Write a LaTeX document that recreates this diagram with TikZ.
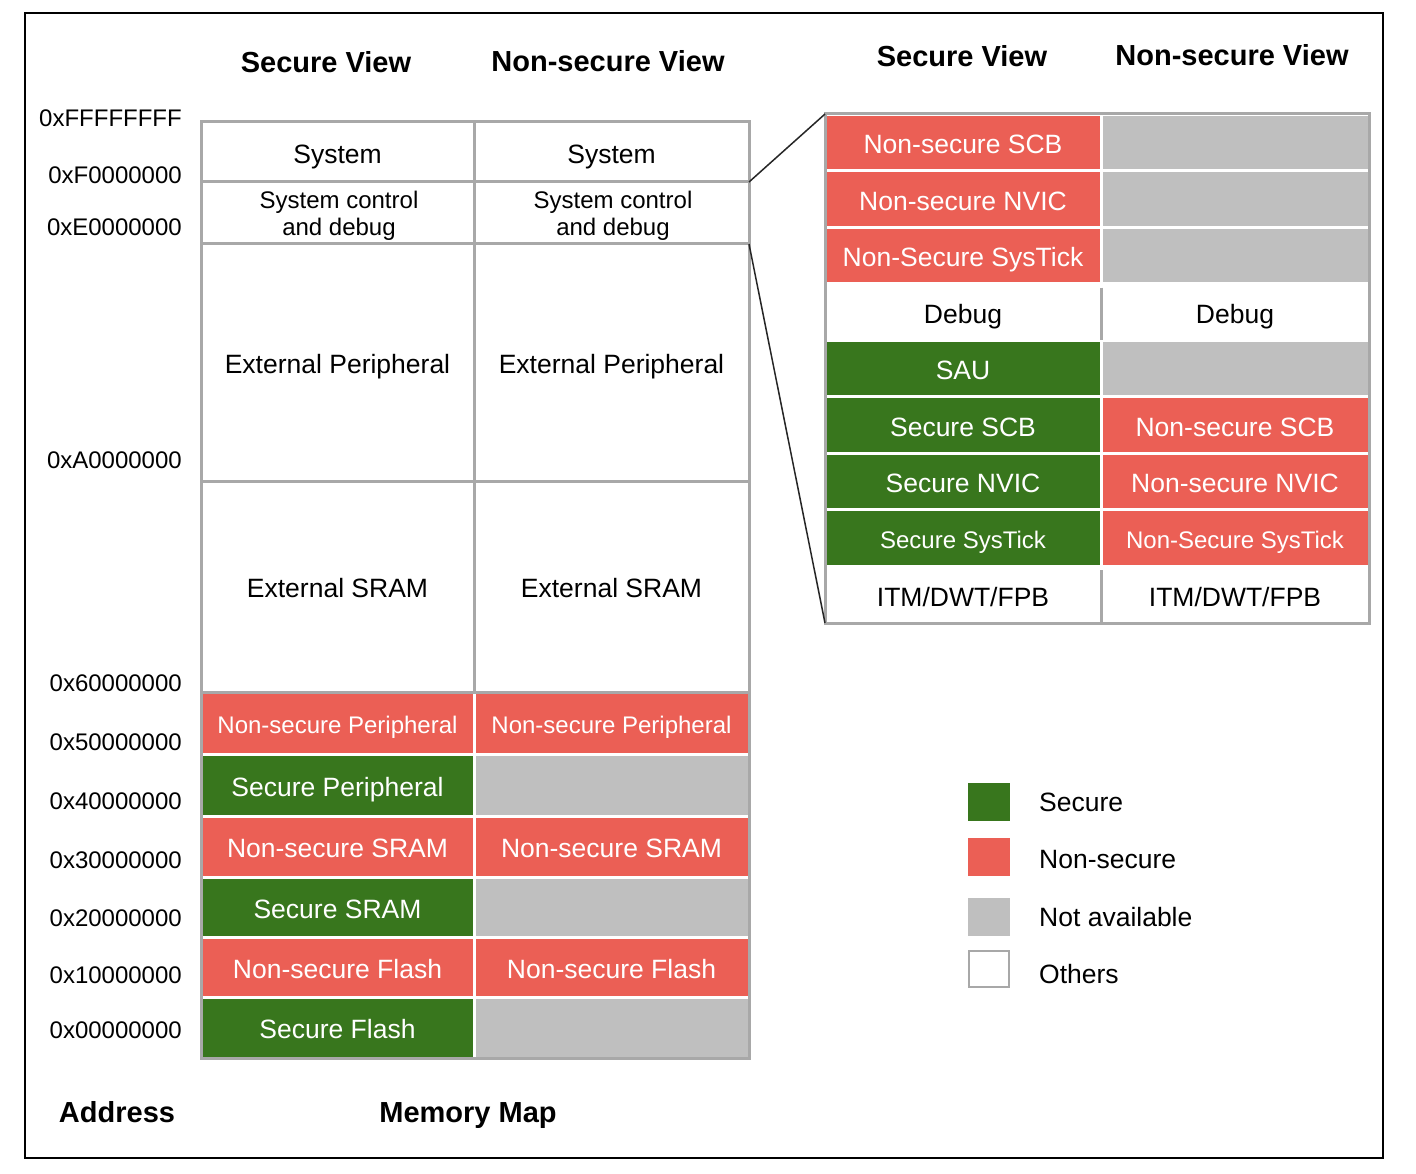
\documentclass[tikz,border=0pt]{standalone}
\usepackage{fontspec}
\setmainfont{Liberation Sans}
\definecolor{secgreen}{HTML}{38761D}
\definecolor{nsred}{HTML}{EB5F55}
\definecolor{nagray}{HTML}{BFBFBF}
\definecolor{rulegray}{HTML}{A8A8A8}

\tikzset{
  cellbase/.style={rectangle, inner sep=0pt, outer sep=0pt, line width=3pt},
  % the extra text height lowers the caption a little inside each cell
  cell/.style={cellbase, text height=22.6pt, text depth=0pt, font=\fontsize{26.5}{30}\selectfont},
  small/.style={text height=21.2pt, font=\fontsize{24}{27}\selectfont},
  sec/.style={cell, fill=secgreen, draw=white, text=white},
  nsec/.style={cell, fill=nsred, draw=white, text=white},
  na/.style={cell, fill=nagray, draw=white},
  oth/.style={cell, fill=white, draw=rulegray},
  othtwo/.style={cellbase, fill=white, draw=rulegray, align=center,
    font=\fontsize{24}{27}\selectfont},
  othplain/.style={cell, fill=white},
  colA/.style={minimum width=273pt},
  colB/.style={minimum width=275pt},
  colC/.style={minimum width=276pt},
  colD/.style={minimum width=268pt},
  rrow/.style={minimum height=56.56pt},
  head/.style={inner sep=0pt, text height=20.8pt, text depth=0pt,
    font=\fontsize{29}{33}\bfseries\selectfont},
  addr/.style={anchor=east, inner sep=0pt, text height=17.2pt, text depth=0pt,
    font=\fontsize{24}{27}\selectfont},
  legbox/.style={rectangle, inner sep=0pt, minimum width=42pt, minimum height=38pt},
  legtext/.style={anchor=west, inner sep=0pt, text height=18.6pt, text depth=0pt,
    font=\fontsize{26.5}{30}\selectfont},
  zoomline/.style={line width=1.5pt, black!85},
}

\begin{document}
\begin{tikzpicture}[x=1pt,y=-1pt]
\useasboundingbox[fill=white] (0,0) rectangle (1416,1174);

% outer frame
\draw[line width=2pt] (25,13) rectangle (1383,1158);

% column headings
\node[head] (hSecL)  at (326,62)  {Secure View};
\node[head] (hNsL)   at (608,61)  {Non-secure View};
\node[head] (hSecR)  at (962,56)  {Secure View};
\node[head] (hNsR)   at (1232,55) {Non-secure View};
\node[head] (hAddr)  at (117,1112) {Address};
\node[head] (hMap)   at (468,1112) {Memory Map};

% address labels
\node[addr] (a0) at (182,118)  {0xFFFFFFFF};
\node[addr] (a1) at (182,175)  {0xF0000000};
\node[addr] (a2) at (182,227)  {0xE0000000};
\node[addr] (a3) at (182,460)  {0xA0000000};
\node[addr] (a4) at (182,683)  {0x60000000};
\node[addr] (a5) at (182,742)  {0x50000000};
\node[addr] (a6) at (182,801)  {0x40000000};
\node[addr] (a7) at (182,860)  {0x30000000};
\node[addr] (a8) at (182,918)  {0x20000000};
\node[addr] (a9) at (182,975)  {0x10000000};
\node[addr] (a10) at (182,1030) {0x00000000};

% memory map: secure / non-secure regions
\node[nsec,small,colA,minimum height=62pt] (nspA) at (337.5,723)   {Non-secure Peripheral};
\node[nsec,small,colB,minimum height=62pt] (nspB) at (611.5,723)   {Non-secure Peripheral};
\node[sec,colA,minimum height=62pt]        (spA)  at (337.5,785)   {Secure Peripheral};
\node[na,colB,minimum height=62pt]         (spB)  at (611.5,785)   {};
\node[nsec,colA,minimum height=61pt]       (nssA) at (337.5,846.5) {Non-secure SRAM};
\node[nsec,colB,minimum height=61pt]       (nssB) at (611.5,846.5) {Non-secure SRAM};
\node[sec,colA,minimum height=60pt]        (ssA)  at (337.5,907)   {Secure SRAM};
\node[na,colB,minimum height=60pt]         (ssB)  at (611.5,907)   {};
\node[nsec,colA,minimum height=60pt]       (nsfA) at (337.5,967)   {Non-secure Flash};
\node[nsec,colB,minimum height=60pt]       (nsfB) at (611.5,967)   {Non-secure Flash};
\node[sec,colA,minimum height=61pt]        (sfA)  at (337.5,1027.5) {Secure Flash};
\node[na,colB,minimum height=61pt]         (sfB)  at (611.5,1027.5) {};

% memory map: other regions
\node[oth,colA,minimum height=60pt]  (sysA) at (337.5,152) {System};
\node[oth,colB,minimum height=60pt]  (sysB) at (611.5,152) {System};
\node[othtwo,colA,minimum height=62pt] (scdA) at (337.5,213) {};
\node[othtwo,colB,minimum height=62pt] (scdB) at (611.5,213) {};
\node[align=center, inner sep=0pt, font=\fontsize{24}{27}\selectfont] (scdAt) at (339,216) {System control\\ and debug};
\node[align=center, inner sep=0pt, font=\fontsize{24}{27}\selectfont] (scdBt) at (613,216) {System control\\ and debug};
\node[oth,colA,minimum height=237pt] (epA) at (337.5,362.5) {External Peripheral};
\node[oth,colB,minimum height=237pt] (epB) at (611.5,362.5) {External Peripheral};
\node[oth,colA,minimum height=211pt] (esA) at (337.5,586.5) {External SRAM};
\node[oth,colB,minimum height=211pt] (esB) at (611.5,586.5) {External SRAM};

\draw[rulegray, line width=3pt] (201,122) rectangle (749,1058);

% system control space detail
\node[nsec,colC,rrow] (r1C) at (963,142.3)  {Non-secure SCB};
\node[na,colD,rrow]   (r1D) at (1235,142.3) {};
\node[nsec,colC,rrow] (r2C) at (963,198.8)  {Non-secure NVIC};
\node[na,colD,rrow]   (r2D) at (1235,198.8) {};
\node[nsec,colC,rrow] (r3C) at (963,255.4)  {Non-Secure SysTick};
\node[na,colD,rrow]   (r3D) at (1235,255.4) {};
\node[othplain,colC,rrow] (r4C) at (963,312)  {Debug};
\node[othplain,colD,rrow] (r4D) at (1235,312) {Debug};
\node[sec,colC,rrow]  (r5C) at (963,368.5)  {SAU};
\node[na,colD,rrow]   (r5D) at (1235,368.5) {};
\node[sec,colC,rrow]  (r6C) at (963,425.1)  {Secure SCB};
\node[nsec,colD,rrow] (r6D) at (1235,425.1) {Non-secure SCB};
\node[sec,colC,rrow]  (r7C) at (963,481.6)  {Secure NVIC};
\node[nsec,colD,rrow] (r7D) at (1235,481.6) {Non-secure NVIC};
\node[sec,small,colC,rrow]  (r8C) at (963,538.2)  {Secure SysTick};
\node[nsec,small,colD,rrow] (r8D) at (1235,538.2) {Non-Secure SysTick};
\node[othplain,colC,rrow] (r9C) at (963,594.7)  {ITM/DWT/FPB};
\node[othplain,colD,rrow] (r9D) at (1235,594.7) {ITM/DWT/FPB};

\draw[rulegray, line width=3pt] ([yshift=-4pt]r4C.north east) -- (r4C.south east);
\draw[rulegray, line width=3pt] ([yshift=-4pt]r9C.north east) -- (r9C.south east);
\draw[rulegray, line width=3pt] (825,114) rectangle (1369,623);

% zoom lines from the system control region
\draw[zoomline] (sysB.south east) -- (r1C.north west);
\draw[zoomline] (scdB.south east) -- (r9C.south west);

% legend
\node[legbox, fill=secgreen] (kSec) at (989,802) {};
\node[legbox, fill=nsred]    (kNs)  at (989,857) {};
\node[legbox, fill=nagray]   (kNa)  at (989,917) {};
\node[legbox, fill=white, draw=rulegray, line width=2.5pt, minimum width=40pt, minimum height=36pt] (kOth) at (989,969) {};
\node[legtext] (tSec) at (1039,802) {Secure};
\node[legtext] (tNs)  at (1039,859) {Non-secure};
\node[legtext] (tNa)  at (1039,917) {Not available};
\node[legtext] (tOth) at (1039,974) {Others};
\end{tikzpicture}
\end{document}
